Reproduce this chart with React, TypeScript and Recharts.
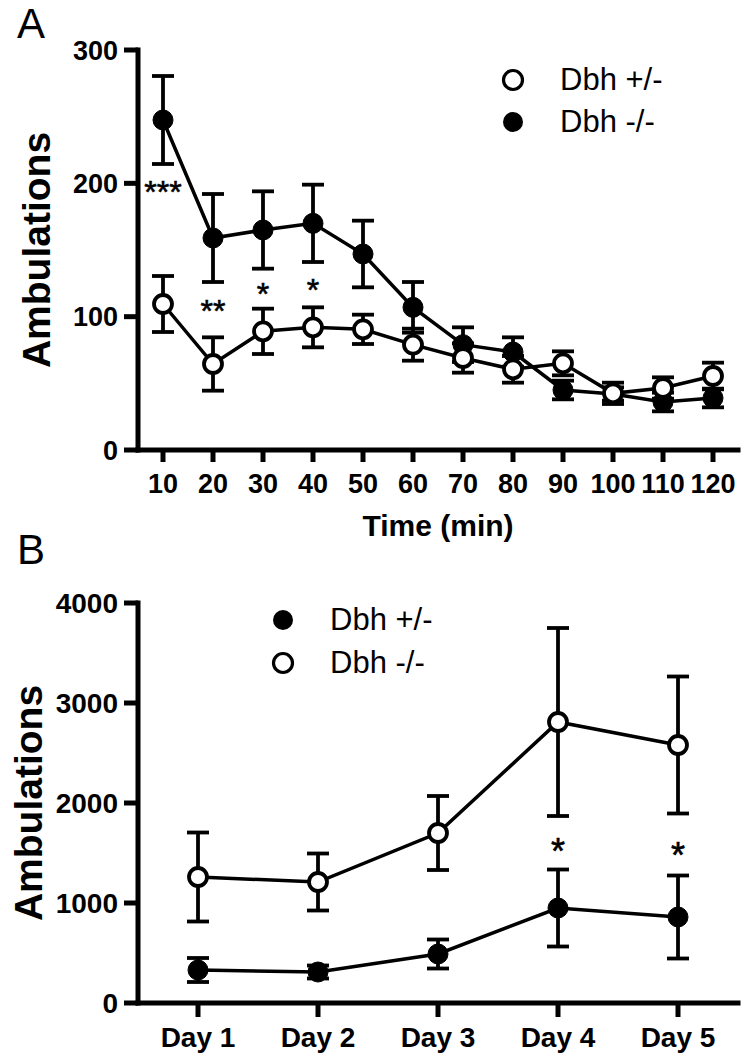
import { LineChart, Line, XAxis, YAxis, ErrorBar, Legend, Label, ReferenceDot } from "recharts"

const FONT = '"Liberation Sans", Arial, Helvetica, sans-serif'

// panel A: ambulations per 10 min bin
const timeBins = ["10", "20", "30", "40", "50", "60", "70", "80", "90", "100", "110", "120"]
const hetMeanA = [109.5, 64.5, 89, 92, 90.5, 79, 69, 60.5, 65, 42.5, 46.5, 55.5]
const hetSemA = [21, 20, 17, 15, 11, 12, 11, 10, 9, 8, 8, 10]
const koMeanA = [247.5, 159, 165, 170, 147, 107, 79, 73.5, 45, 42, 36, 39]
const koSemA = [33, 33, 29, 29, 25, 19, 13, 11, 7, 5, 7, 7]
const yTicksA = [0, 100, 200, 300]
const sigBinsA = ["10", "20", "30", "40"]
const sigTextA = ["***", "**", "*", "*"]
const sigHeightA = [199, 110, 123, 126]

// panel B: ambulations per day
const days = ["Day 1", "Day 2", "Day 3", "Day 4", "Day 5"]
const hetMeanB = [330, 310, 490, 950, 860]
const hetSemB = [120, 65, 145, 385, 415]
const koMeanB = [1260, 1210, 1700, 2810, 2580]
const koSemB = [445, 285, 370, 940, 685]
const yTicksB = [0, 1000, 2000, 3000, 4000]
const sigDaysB = ["Day 4", "Day 5"]
const sigTextB = ["*", "*"]
const sigHeightB = [1600, 1560]

const dataA = timeBins.map((t, i) => ({
  time: t,
  het: hetMeanA[i],
  hetErr: hetSemA[i],
  ko: koMeanA[i],
  koErr: koSemA[i],
}))

const dataB = days.map((d, i) => ({
  day: d,
  het: hetMeanB[i],
  hetErr: hetSemB[i],
  ko: koMeanB[i],
  koErr: koSemB[i],
}))

const axisStroke = { stroke: "#000", strokeWidth: 5, strokeLinecap: "square" as const }
const tickStroke = { stroke: "#000", strokeWidth: 5 }

const openDot = { r: 9, fill: "#fff", stroke: "#000", strokeWidth: 3.8 }
const filledDot = { r: 10, fill: "#000", stroke: "#000", strokeWidth: 1 }

const starShape = (text: string, size: number) => (props: any) => (
  <text
    x={props.cx}
    y={props.cy + size * 0.58}
    textAnchor="middle"
    fontSize={size}
    fontFamily={FONT}
    fill="#000"
    stroke="#000"
    strokeWidth={0.6}
  >
    {text}
  </text>
)

const yTitle = (baselineX: number) => (props: any) => {
  const vb = props.viewBox
  const cy = vb.y + vb.height / 2
  return (
    <text
      x={baselineX}
      y={cy}
      transform={`rotate(-90 ${baselineX} ${cy})`}
      textAnchor="middle"
      fontSize={39}
      fontWeight="bold"
      fontFamily={FONT}
      fill="#000"
    >
      Ambulations
    </text>
  )
}

const xTitle = (props: any) => {
  const vb = props.viewBox
  return (
    <text
      x={vb.x + vb.width / 2}
      y={vb.y + 86}
      textAnchor="middle"
      fontSize={30}
      fontWeight="bold"
      fontFamily={FONT}
      fill="#000"
    >
      Time (min)
    </text>
  )
}

type LegendItem = { label: string; filled: boolean }
const legendA: LegendItem[] = [
  { label: "Dbh +/-", filled: false },
  { label: "Dbh -/-", filled: true },
]
const legendB: LegendItem[] = [
  { label: "Dbh +/-", filled: true },
  { label: "Dbh -/-", filled: false },
]

const renderLegend = (items: LegendItem[], rowH: number) => () => (
  <div style={{ fontFamily: FONT, fontSize: 31, color: "#000" }}>
    {items.map((it) => (
      <div key={it.label} style={{ display: "flex", alignItems: "center", height: rowH }}>
        <svg width={24} height={24}>
          <circle
            cx={12}
            cy={12}
            r={it.filled ? 10 : 9.5}
            fill={it.filled ? "#000" : "#fff"}
            stroke="#000"
            strokeWidth={it.filled ? 0 : 3.2}
          />
        </svg>
        <span style={{ marginLeft: 35, lineHeight: `${rowH}px`, whiteSpace: "nowrap" }}>{it.label}</span>
      </div>
    ))}
  </div>
)

const panelLetter = (top: number): React.CSSProperties => ({
  position: "absolute",
  left: 17,
  top,
  fontFamily: FONT,
  fontSize: 42,
  lineHeight: "42px",
  color: "#000",
})

export default function App() {
  return (
    <div style={{ position: "absolute", left: 0, top: 0, width: 745, height: 1062, background: "#fff" }}>
      <div style={panelLetter(3)}>A</div>
      <div style={panelLetter(529)}>B</div>

      <div style={{ position: "absolute", left: 0, top: 0 }}>
        <LineChart width={745} height={545} data={dataA} margin={{ top: 50, right: 7, left: 58, bottom: 35 }}>
          <XAxis
            dataKey="time"
            height={60}
            interval={0}
            padding={{ left: 25, right: 25 }}
            axisLine={axisStroke}
            tickLine={tickStroke}
            tickSize={12}
            tickMargin={12}
            tick={{ fill: "#000", fontSize: 27, fontWeight: "bold", fontFamily: FONT }}
          >
            <Label content={xTitle} />
          </XAxis>
          <YAxis
            width={80}
            domain={[0, 300]}
            ticks={yTicksA}
            interval={0}
            axisLine={axisStroke}
            tickLine={tickStroke}
            tickSize={14}
            tickMargin={6}
            tick={{ fill: "#000", fontSize: 27, fontWeight: "bold", fontFamily: FONT }}
          >
            <Label content={yTitle(50)} />
          </YAxis>
          <Legend
            layout="vertical"
            align="center"
            verticalAlign="middle"
            wrapperStyle={{ left: 501, top: 59, width: "auto" }}
            content={renderLegend(legendA, 42)}
          />
          <Line
            type="linear"
            dataKey="ko"
            stroke="#000"
            strokeWidth={3.5}
            dot={filledDot}
            activeDot={false}
            isAnimationActive={false}
          >
            <ErrorBar dataKey="koErr" direction="y" width={11} stroke="#000" strokeWidth={3.8} />
          </Line>
          <Line
            type="linear"
            dataKey="het"
            stroke="#000"
            strokeWidth={3.5}
            dot={openDot}
            activeDot={false}
            isAnimationActive={false}
          >
            <ErrorBar dataKey="hetErr" direction="y" width={11} stroke="#000" strokeWidth={3.8} />
          </Line>
          {sigBinsA.map((b, i) => (
            <ReferenceDot key={b} x={b} y={sigHeightA[i]} r={1} shape={starShape(sigTextA[i], 32)} />
          ))}
        </LineChart>
      </div>

      <div style={{ position: "absolute", left: 0, top: 545 }}>
        <LineChart width={745} height={517} data={dataB} margin={{ top: 58, right: 7, left: 58, bottom: 0 }}>
          <XAxis
            dataKey="day"
            height={59}
            interval={0}
            padding={{ left: 60, right: 60 }}
            axisLine={axisStroke}
            tickLine={tickStroke}
            tickSize={14}
            tickMargin={10}
            tick={{ fill: "#000", fontSize: 28, fontWeight: "bold", fontFamily: FONT }}
          />
          <YAxis
            width={80}
            domain={[0, 4000]}
            ticks={yTicksB}
            interval={0}
            axisLine={axisStroke}
            tickLine={tickStroke}
            tickSize={14}
            tickMargin={6}
            tick={{ fill: "#000", fontSize: 28, fontWeight: "bold", fontFamily: FONT }}
          >
            <Label content={yTitle(42)} />
          </YAxis>
          <Legend
            layout="vertical"
            align="center"
            verticalAlign="middle"
            wrapperStyle={{ left: 271, top: 53, width: "auto" }}
            content={renderLegend(legendB, 43)}
          />
          <Line
            type="linear"
            dataKey="het"
            stroke="#000"
            strokeWidth={3.5}
            dot={filledDot}
            activeDot={false}
            isAnimationActive={false}
          >
            <ErrorBar dataKey="hetErr" direction="y" width={11} stroke="#000" strokeWidth={3.8} />
          </Line>
          <Line
            type="linear"
            dataKey="ko"
            stroke="#000"
            strokeWidth={3.5}
            dot={openDot}
            activeDot={false}
            isAnimationActive={false}
          >
            <ErrorBar dataKey="koErr" direction="y" width={11} stroke="#000" strokeWidth={3.8} />
          </Line>
          {sigDaysB.map((d, i) => (
            <ReferenceDot key={d} x={d} y={sigHeightB[i]} r={1} shape={starShape(sigTextB[i], 36)} />
          ))}
        </LineChart>
      </div>
    </div>
  )
}
